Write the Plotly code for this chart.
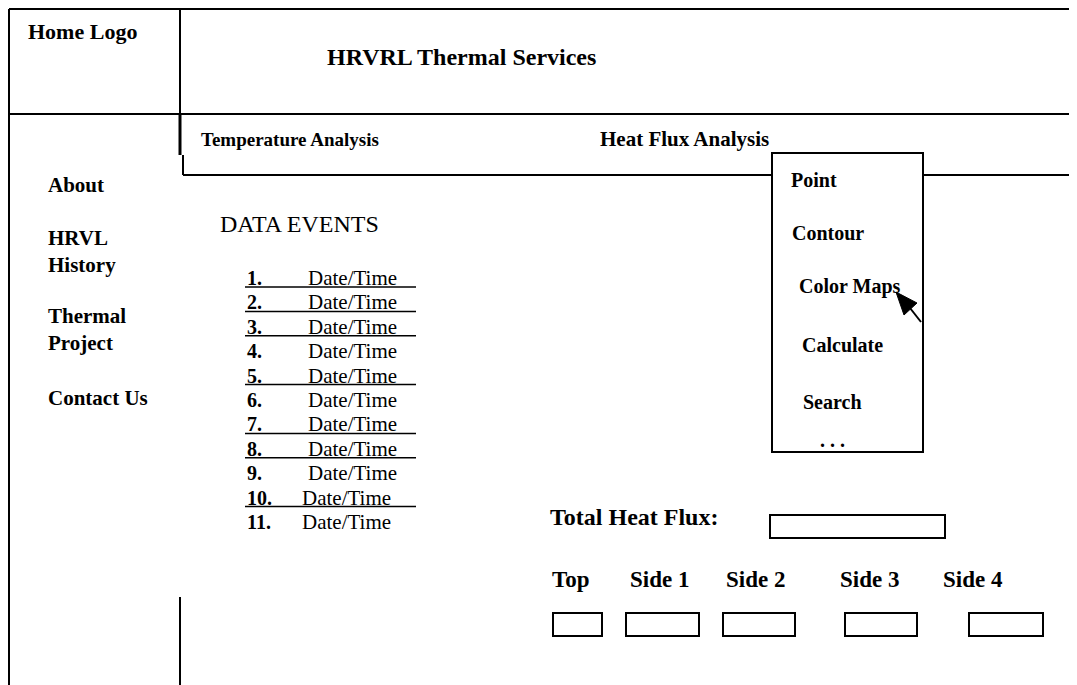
import plotly.graph_objects as go

# ---------------- content (data) ----------------
site_title = "HRVRL Thermal Services"
logo_label = "Home Logo"
nav_tabs = ["Temperature Analysis", "Heat Flux Analysis"]
sidebar_items = ["About", "HRVL<br>History", "Thermal<br>Project", "Contact Us"]
events_title = "DATA EVENTS"
event_numbers = [1, 2, 3, 4, 5, 6, 7, 8, 9, 10, 11]
event_label = "Date/Time"
event_linked = [True, True, True, False, True, False, True, True, False, True, False]
menu_items = ["Point", "Contour", "Color Maps", "Calculate", "Search", ". . ."]
total_label = "Total Heat Flux:"
side_labels = ["Top", "Side 1", "Side 2", "Side 3", "Side 4"]

# ---------------- layout constants ----------------
PAGE_W, PAGE_H = 1077, 685
BODY = 8  # default page margin of the html body
W, H = PAGE_W - BODY, PAGE_H - BODY
FONT_B = "Liberation Serif"
BLACK = "#000000"

fig = go.Figure()
shapes = []
ann = []


def line(x0, y0, x1, y1, w=2):
    shapes.append(dict(type="line", x0=x0, y0=y0, x1=x1, y1=y1, xref="x", yref="y",
                       line=dict(color=BLACK, width=w)))


def rect(x0, y0, x1, y1, w=2):
    shapes.append(dict(type="rect", x0=x0, y0=y0, x1=x1, y1=y1, xref="x", yref="y",
                       line=dict(color=BLACK, width=w), fillcolor="rgba(0,0,0,0)"))


def text(x, y, s, size=21, bold=True, anchor="left"):
    ann.append(dict(x=x, y=y, xref="x", yref="y", text=(f"<b>{s}</b>" if bold else s),
                    showarrow=False, xanchor=anchor, yanchor="middle", align="left",
                    font=dict(family=FONT_B, size=size, color=BLACK)))


# frame
line(9, 9, PAGE_W + 2, 9)
line(9, 9, 9, PAGE_H + 2)
line(180, 9, 180, 114)
line(9, 114, PAGE_W + 2, 114)
line(180, 114, 180, 155, w=3)
line(183, 155, 183, 175)
line(183, 175, 772, 175)
line(923, 175, PAGE_W + 2, 175)
line(180, 597, 180, PAGE_H + 2)

# header texts
text(26, 31, logo_label, size=22)
text(461, 57, site_title, size=24, anchor="center")
text(199, 139, nav_tabs[0], size=19)
text(598, 139, nav_tabs[1], size=21)

# sidebar
side_y = [185, 251, 329, 398]
for s, y in zip(sidebar_items, side_y):
    text(46, y, s)

# data events
text(218, 224, events_title, size=24, bold=False)
row0, step = 278, 24.4
for i, (n, linked) in enumerate(zip(event_numbers, event_linked)):
    y = row0 + i * step
    text(245, y, f"{n}.", size=20)
    text(306 if n < 10 else 300, y, event_label, size=21, bold=False)
    if linked:
        line(245, y + 9, 416, y + 9, w=1.5)

# dropdown
rect(772, 153, 923, 452)
menu_pos = [(789, 180), (790, 233), (797, 286), (800, 345), (801, 402), (818, 440)]
for s, (x, y) in zip(menu_items, menu_pos):
    text(x, y, s, size=20)

# cursor
shapes.append(dict(type="path", path="M 896 292 L 917 303 L 904 315 Z", xref="x", yref="y",
                   fillcolor=BLACK, line=dict(color=BLACK, width=1)))
line(910, 308, 921, 322, w=2)

# heat flux fields
text(548, 517, total_label, size=24)
rect(770, 515, 945, 538)
side_x = [550, 628, 724, 838, 941]
box_x = [(553, 602), (626, 699), (723, 795), (845, 917), (969, 1043)]
for s, x in zip(side_labels, side_x):
    text(x, 579, s, size=23)
for x0, x1 in box_x:
    rect(x0, 613, x1, 636)

fig.update_layout(
    width=W, height=H, margin=dict(l=0, r=0, t=0, b=0),
    paper_bgcolor="white", plot_bgcolor="white",
    xaxis=dict(range=[BODY, BODY + W], visible=False, fixedrange=True),
    yaxis=dict(range=[BODY + H, BODY], visible=False, fixedrange=True),
    shapes=shapes, annotations=ann, showlegend=False,
)
fig.write_html("out.html")
